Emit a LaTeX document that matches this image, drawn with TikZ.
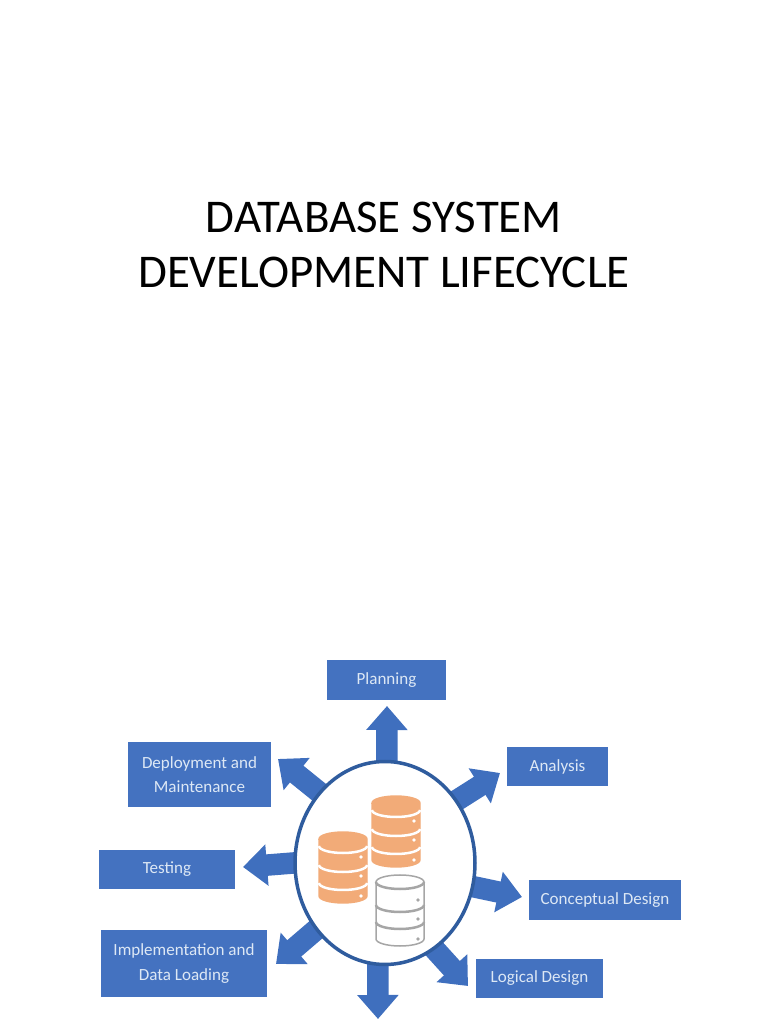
\documentclass[tikz,border=0pt]{standalone}
\usepackage{fontspec}
\setmainfont{Carlito}
\usetikzlibrary{arrows.meta,shapes.geometric,backgrounds}
\definecolor{stageblue}{HTML}{4472C0}
\definecolor{arrowblue}{HTML}{3F6FBE}
\definecolor{ringblue}{HTML}{2F5C9E}
\definecolor{dborange}{HTML}{F2AB78}
\definecolor{dbgrey}{HTML}{A6A6A6}
\definecolor{stagetext}{HTML}{DDE8F5}
\tikzset{
  stagebox/.style={fill=stageblue,text=stagetext,align=center,inner sep=0pt,font=\fontsize{4.85}{7}\selectfont},
  flowarrow/.style={arrowblue,line width=.215cm,shorten <=-.04cm,-{Triangle[width=.4cm,length=.24cm]}},
  titletext/.style={align=center,inner sep=0pt,font=\fontsize{13.35}{15.65}\selectfont}
}
% #1 top left corner, #2 body, #3 lines, #4 line offsets
\newcommand{\dbstack}[4]{
  \begin{scope}[shift={(#1)}]
    \draw[#2] (0,-.07) -- (0,-.64) arc[start angle=180,end angle=360,x radius=.24,y radius=.07]
      -- (.48,-.07) arc[start angle=0,end angle=180,x radius=.24,y radius=.07] -- cycle;
    \foreach \y in {#4}
      \draw[#3,line width=.025cm] (0,\y) arc[start angle=180,end angle=360,x radius=.24,y radius=.07];
    \foreach \y in {-.25,-.44,-.64}
      \fill[#3] (.42,\y) circle (.018);
  \end{scope}
}
\begin{document}
\begin{tikzpicture}
  \useasboundingbox (0,0) rectangle (7.68,10.24);
  \node (title) at (3.84,7.79) [titletext] {DATABASE SYSTEM\\DEVELOPMENT LIFECYCLE};

  \node (hub) at (3.85,1.61) [ellipse,draw=ringblue,fill=white,line width=.035cm,inner sep=0pt,minimum width=1.8cm,minimum height=2.03cm] {};

  \node (planning) at (3.865,3.44) [stagebox,minimum width=1.19cm,minimum height=.4cm] {Planning};
  \node (deployment) at (1.995,2.495) [stagebox,minimum width=1.43cm,minimum height=.65cm] {Deployment and\\Maintenance};
  \node (testing) at (1.67,1.545) [stagebox,minimum width=1.36cm,minimum height=.39cm] {Testing};
  \node (implementation) at (1.84,.605) [stagebox,minimum width=1.66cm,minimum height=.67cm] {Implementation and\\Data Loading};
  \node (analysis) at (5.575,2.575) [stagebox,minimum width=1.01cm,minimum height=.39cm] {Analysis};
  \node (conceptual) at (6.05,1.24) [stagebox,minimum width=1.52cm,minimum height=.4cm] {Conceptual Design};
  \node (logical) at (5.395,.455) [stagebox,minimum width=1.27cm,minimum height=.39cm] {Logical Design};

  \coordinate (tipplanning) at (3.87,3.18);
  \coordinate (tipanalysis) at (5,2.51);
  \coordinate (tipconceptual) at (5.22,1.27);
  \coordinate (tiplogical) at (4.68,.38);
  \coordinate (tipbottom) at (3.78,.05);
  \coordinate (tipimplementation) at (2.76,.6);
  \coordinate (tiptesting) at (2.43,1.57);
  \coordinate (tipdeployment) at (2.78,2.65);

  \begin{pgfonlayer}{background}
    \draw[flowarrow] (hub.89) -- (tipplanning);
    \draw[flowarrow] (hub.41) -- (tipanalysis);
    \draw[flowarrow] (hub.-15) -- (tipconceptual);
    \draw[flowarrow] (hub.-60) -- (tiplogical);
    \draw[flowarrow] (hub.-94) -- (tipbottom);
    \draw[flowarrow] (hub.224) -- (tipimplementation);
    \draw[flowarrow] (hub.180) -- (tiptesting);
    \draw[flowarrow] (hub.133) -- (tipdeployment);
  \end{pgfonlayer}

  \dbstack{3.19,1.92}{fill=dborange,draw=dborange}{white}{-.14,-.33,-.51}
  \dbstack{3.72,2.28}{fill=dborange,draw=dborange}{white}{-.14,-.33,-.51}
  \dbstack{3.76,1.49}{fill=white,draw=dbgrey,line width=.015cm}{dbgrey}{-.07,-.3,-.47}
\end{tikzpicture}
\end{document}
